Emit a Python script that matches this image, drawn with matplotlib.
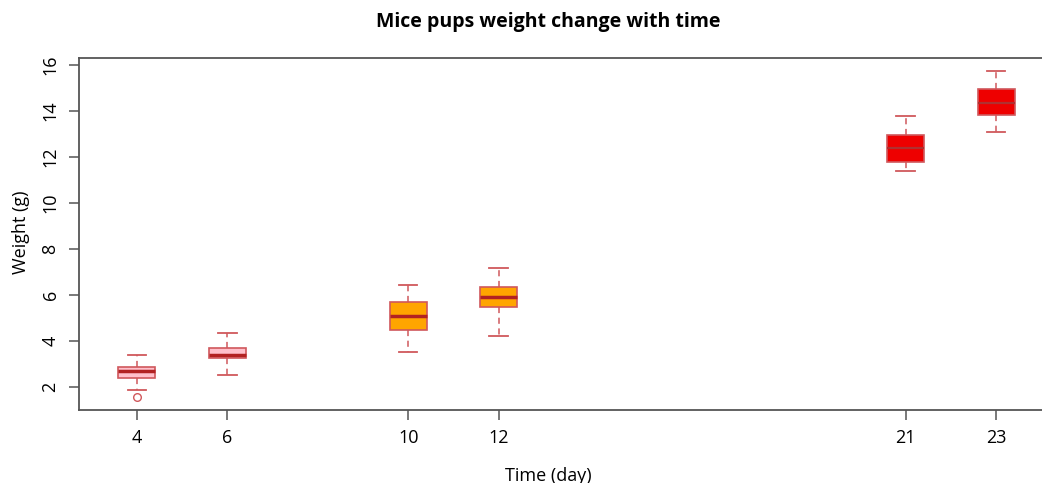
import matplotlib
matplotlib.use("Agg")
import matplotlib.pyplot as plt

days = [4, 6, 10, 12, 21, 23]
whislo = [1.87, 2.52, 3.52, 4.22, 11.39, 13.09]
q1 = [2.39, 3.26, 4.48, 5.48, 11.78, 13.80]
med = [2.70, 3.41, 5.09, 5.93, 12.37, 14.35]
q3 = [2.87, 3.70, 5.70, 6.35, 12.96, 14.96]
whishi = [3.40, 4.35, 6.43, 7.17, 13.78, 15.74]
fliers = [[1.57], [], [], [], [], []]
fills = ["#FFC0CB", "#FFC0CB", "#FFA500", "#FFA500", "#EE0000", "#EE0000"]

plt.rcParams['font.family'] = ['Open Sans', 'DejaVu Sans']

fig = plt.figure(figsize=(10.42, 4.83), dpi=100)
ax = fig.add_axes([0.0758, 0.1511, 0.9357, 0.7289])

stats = []
for i in range(len(days)):
    stats.append(dict(whislo=whislo[i], q1=q1[i], med=med[i], q3=q3[i],
                      whishi=whishi[i], fliers=fliers[i]))

edge = "#D0585C"
bp = ax.bxp(stats, positions=days, widths=0.82, patch_artist=True,
            boxprops=dict(edgecolor=edge, linewidth=1.2),
            whiskerprops=dict(color=edge, linestyle=(0, (4, 3)), linewidth=1.1),
            capprops=dict(color=edge, linewidth=1.3),
            medianprops=dict(color="#B22222", linewidth=2.5),
            flierprops=dict(marker="o", markerfacecolor="none",
                            markeredgecolor=edge, markersize=5.5))
for patch, c in zip(bp["boxes"], fills):
    patch.set_facecolor(c)
for i, m in enumerate(bp["medians"]):
    if i >= 4:
        m.set_color("#B03030")
        m.set_linewidth(1.6)

ax.set_xlim(2.72, 24.28)
ax.set_ylim(1.0, 16.3)
ax.set_xticks(days)
ax.set_xticklabels([str(d) for d in days])
ax.set_yticks([2, 4, 6, 8, 10, 12, 14, 16])
for lbl in ax.get_yticklabels():
    lbl.set_rotation(90)
    lbl.set_va("center")
ax.tick_params(axis="both", direction="out", length=7, width=1.1,
               color="#555555", labelsize=13, pad=7)
for s in ax.spines.values():
    s.set_color("#555555")
    s.set_linewidth(1.3)

fig.text(0.526, 0.955, "Mice pups weight change with time", ha="center",
         va="center", fontsize=14, fontweight="bold")
fig.text(0.526, 0.015, "Time (day)", ha="center", va="center", fontsize=13)
fig.text(0.02, 0.52, "Weight (g)", ha="center", va="center", fontsize=13,
         rotation=90)

fig.savefig("out.png", dpi=100)
